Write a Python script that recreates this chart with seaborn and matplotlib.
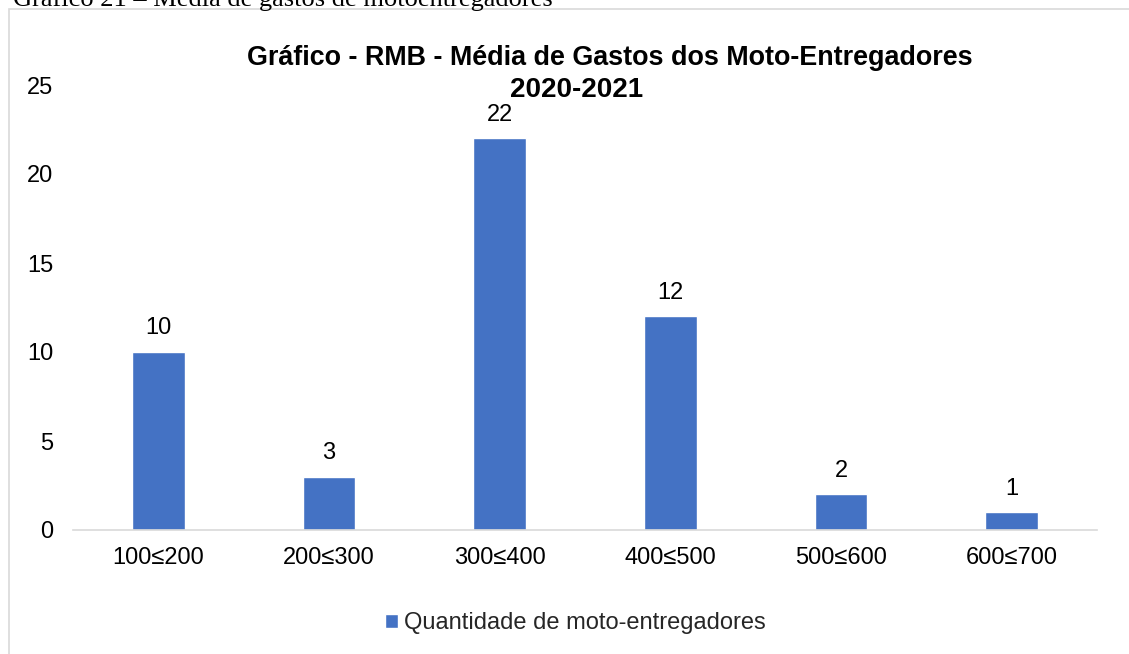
import matplotlib
matplotlib.use("Agg")
import matplotlib.pyplot as plt
import matplotlib.patches as mpatches
import seaborn as sns
import pandas as pd

faixas = ["100≤200", "200≤300", "300≤400", "400≤500", "500≤600", "600≤700"]
quantidade = [10, 3, 22, 12, 2, 1]
serie = "Quantidade de moto-entregadores"
titulo_l1 = "Gráfico - RMB - Média de Gastos dos Moto-Entregadores"
titulo_l2 = "2020-2021"
legenda_doc = "Gráfico 21 – Média de gastos de motoentregadores"
y_ticks = [0, 5, 10, 15, 20, 25]

df = pd.DataFrame({"faixa": faixas, "qtd": quantidade, "serie": serie})

sns.set_theme(style="white")
plt.rcParams["font.family"] = ["Liberation Sans", "DejaVu Sans"]

W, H = 1129, 654
fig = plt.figure(figsize=(W / 100, H / 100), dpi=100)
ax = fig.add_axes([73 / W, 1 - 530 / H, (1097 - 73) / W, (530 - 85) / H])

cor = "#4472C4"
sns.barplot(data=df, x="faixa", y="qtd", hue="serie", palette=[cor],
            width=0.31, ax=ax, legend=True, saturation=1)

ax.set_ylim(0, 25)
ax.set_yticks(y_ticks)
ax.set_xlim(-0.5, len(faixas) - 0.5)
ax.set_xlabel("")
ax.set_ylabel("")
for s in ["top", "right", "left"]:
    ax.spines[s].set_visible(False)
ax.spines["bottom"].set_color("#D9D9D9")
ax.spines["bottom"].set_linewidth(1.2)
ax.tick_params(axis="both", length=0, labelsize=17, colors="#000000")
ax.tick_params(axis="y", pad=14)
ax.tick_params(axis="x", pad=12)

for c in ax.containers:
    ax.bar_label(c, labels=[str(v) for v in quantidade], padding=9,
                 fontsize=17, color="#000000")

# two-line chart title
fig.text(610 / W, 1 - 65 / H, titulo_l1, ha="center", va="baseline",
         fontsize=19.4, fontweight="bold", color="#000000")
fig.text(577 / W, 1 - 97 / H, titulo_l2, ha="center", va="baseline",
         fontsize=20, fontweight="bold", color="#000000")

handles, labels = ax.get_legend_handles_labels()
ax.legend(handles, labels, loc="center", bbox_to_anchor=(575 / W, 1 - 623 / H),
          bbox_transform=fig.transFigure, frameon=False, fontsize=17,
          handlelength=0.55, handleheight=0.55, handletextpad=0.25)

# chart frame
fig.patches.append(mpatches.Rectangle((9 / W, -0.1), 1.2, 1 - 9 / H + 0.1,
                                      transform=fig.transFigure, fill=False,
                                      edgecolor="#D9D9D9", linewidth=1.2))
# document caption above the frame
fig.text(13 / W, 1 - 6 / H, legenda_doc, ha="left", va="baseline",
         fontsize=19, family=["Liberation Serif", "DejaVu Serif"],
         color="#000000")

fig.savefig("out.png", dpi=100)
